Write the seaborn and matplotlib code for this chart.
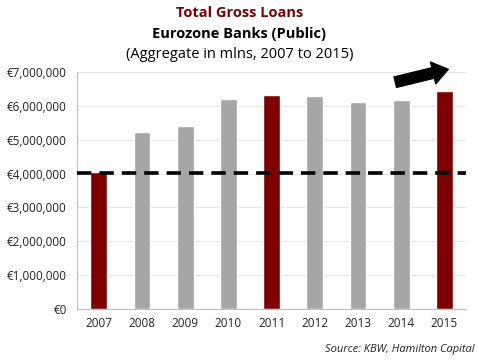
import pandas as pd
import numpy as np
import seaborn as sns
import matplotlib.pyplot as plt
from matplotlib.ticker import FuncFormatter, FixedLocator

# Data
years = ['2007', '2008', '2009', '2010', '2011', '2012', '2013', '2014', '2015']
loans = [4050000, 5240000, 5400000, 6210000, 6320000, 6280000, 6110000, 6180000, 6430000]
highlight = ['hi', 'lo', 'lo', 'lo', 'hi', 'lo', 'lo', 'lo', 'hi']
baseline = 4030000

data = pd.DataFrame({'Year': years, 'Loans': loans, 'Group': highlight})

sns.set_style('white')
plt.rcParams['font.family'] = ['Open Sans', 'DejaVu Sans']

fig, ax = plt.subplots(figsize=(4.79, 3.6), dpi=100)
fig.subplots_adjust(left=0.161, right=0.973, top=0.80, bottom=0.142)

sns.barplot(data=data, x='Year', y='Loans', hue='Group',
            palette={'hi': '#7f0000', 'lo': '#a6a6a6'}, saturation=1,
            width=0.39, dodge=False, legend=False, ax=ax, zorder=2)

ax.axhline(baseline, color='black', lw=2.6, ls=(0, (4, 2.2)), zorder=3)

ax.set_ylim(0, 7000000)
ax.set_xlim(-0.5, len(years) - 0.5)
ax.yaxis.set_major_formatter(FuncFormatter(lambda v, p: '€{:,.0f}'.format(v)))
ax.set_yticks(np.arange(0, 7000001, 1000000))
ax.grid(axis='y', color='#e6e6e6', lw=0.8, zorder=0)
ax.set_xlabel('')
ax.set_ylabel('')

ax.xaxis.set_minor_locator(FixedLocator(np.arange(-0.5, len(years), 1)))
ax.tick_params(axis='x', which='major', length=0, labelsize=8.5, pad=6, colors='#222222')
ax.tick_params(axis='x', which='minor', length=4, color='#bfbfbf', width=0.8)
ax.tick_params(axis='y', length=4, color='#bfbfbf', width=0.8, labelsize=8.5, colors='#222222')

for s in ['top', 'right']:
    ax.spines[s].set_visible(False)
for s in ['left', 'bottom']:
    ax.spines[s].set_color('#bfbfbf')
    ax.spines[s].set_linewidth(0.8)

# upward trend arrow
ax.annotate('', xy=(8.15, 7100000), xytext=(6.8, 6680000),
            arrowprops=dict(arrowstyle='simple,head_length=0.8,head_width=1.15,tail_width=0.55',
                            color='black', mutation_scale=14),
            annotation_clip=False)

fig.text(0.5, 0.965, 'Total Gross Loans', ha='center', va='center',
         fontsize=10.5, fontweight='bold', color='#7f0000')
fig.text(0.5, 0.905, 'Eurozone Banks (Public)', ha='center', va='center',
         fontsize=10.5, fontweight='bold', color='black')
fig.text(0.5, 0.848, '(Aggregate in mlns, 2007 to 2015)', ha='center', va='center',
         fontsize=10.5, color='black')
fig.text(0.99, 0.03, 'Source: KBW, Hamilton Capital', ha='right', va='center',
         fontsize=8, style='italic', color='#222222')

plt.savefig('out.png', dpi=100)
